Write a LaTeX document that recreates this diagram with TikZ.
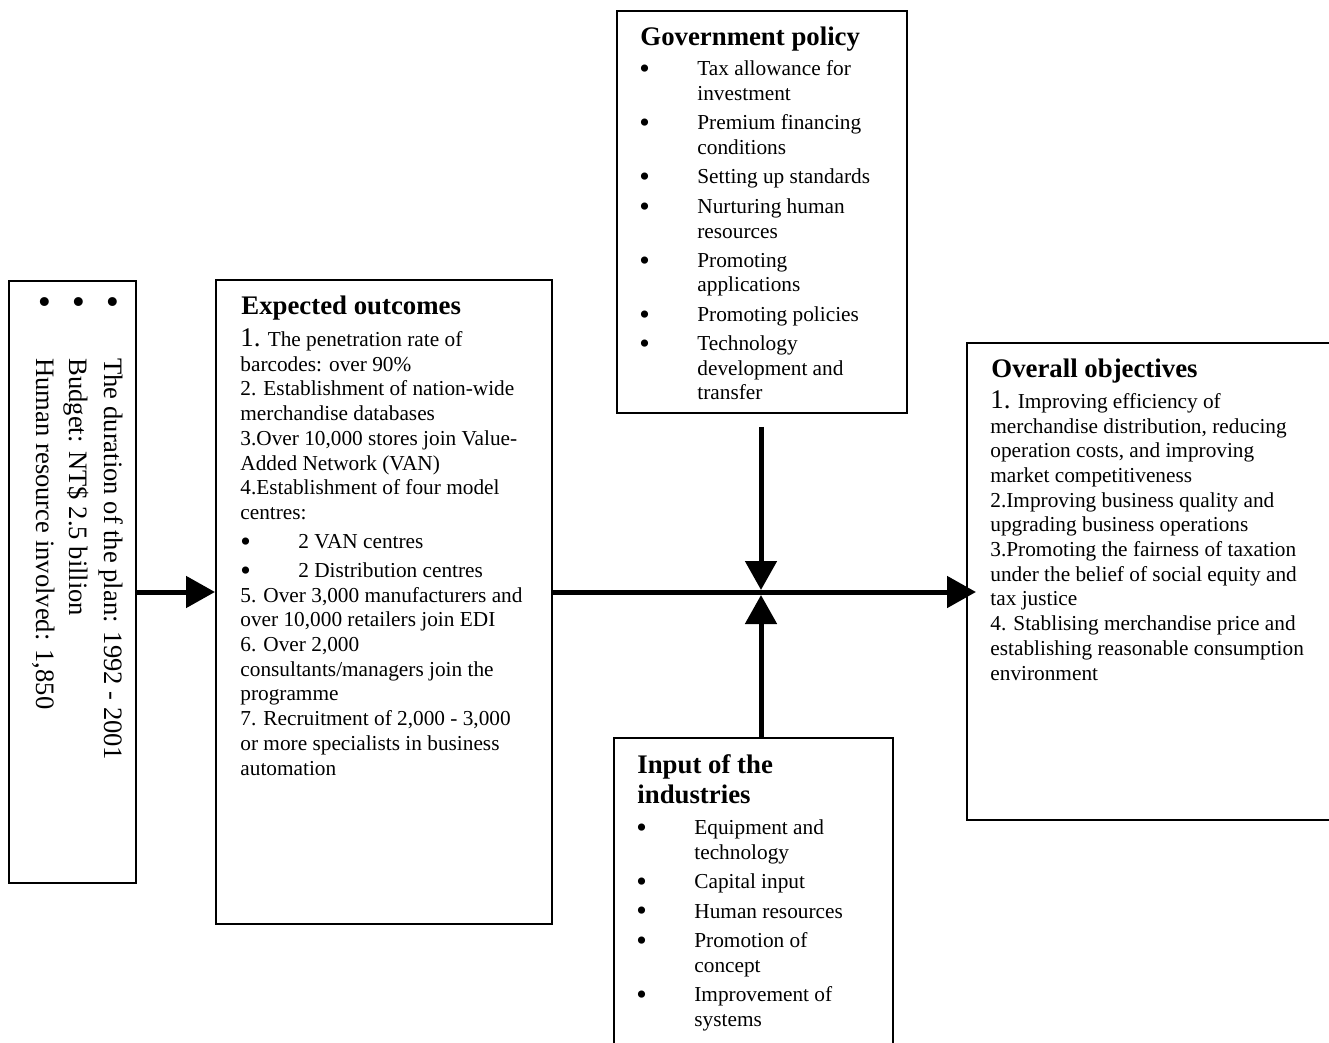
\documentclass[tikz,border=0pt]{standalone}
\usepackage{fontspec}
\setmainfont{Liberation Serif}
\usetikzlibrary{arrows.meta,fit}

% a heavier bullet, set in a larger size and lowered back onto the line
\newcommand{\bigbullet}[2]{\raisebox{#2}{\fontsize{#1}{#1}\selectfont\textbullet}}
% bullet item with a hanging indent, and the continuation line of such an item
\newcommand{\bul}[1]{\makebox[29pt][l]{\bigbullet{15pt}{-1.4pt}}#1}
\newcommand{\cont}[1]{\hspace*{29pt}#1}
\newcommand{\bignum}[1]{{\fontsize{13.5pt}{12pt}\selectfont #1}}

\begin{document}
\begin{tikzpicture}[x=0.5pt,y=-0.5pt,
  panel/.style={draw, line width=1pt, inner sep=0pt},
  % multi-line texts are placed by the baseline of their last line
  heading/.style={anchor=base west, inner sep=0pt, align=left,
    font=\fontsize{13.4pt}{15pt}\selectfont\bfseries},
  body/.style={anchor=base west, inner sep=0pt, align=left,
    font=\fontsize{10.65pt}{12.35pt}\selectfont},
  flow/.style={line width=2.5pt, -{Triangle[length=14.5pt,width=15.5pt]}}]

\useasboundingbox (0,0) rectangle (1329,1043);
\clip (0,0) rectangle (1329,1043);

% panels
\node[panel, fit={(9,281) (136,883)}] (plan) {};
\node[panel, fit={(216,280) (552,924)}] (outcomes) {};
\node[panel, fit={(617,11) (907,413)}] (policy) {};
\node[panel, fit={(614,738) (893,1080)}] (input) {};
\node[panel, fit={(967,343) (1350,820)}] (objectives) {};

% plan facts, set sideways
\node[rotate=-90, anchor=base west, inner sep=0pt, align=left,
      font=\fontsize{13.3pt}{17pt}\selectfont] (plantext) at (36,295)
  {\makebox[31.5pt][l]{\bigbullet{18.6pt}{-1.8pt}}The duration of the plan: 1992 - 2001\\
   \makebox[31.5pt][l]{\bigbullet{18.6pt}{-1.8pt}}Budget: NT\$ 2.5 billion\\
   \makebox[31.5pt][l]{\bigbullet{18.6pt}{-1.8pt}}Human resource involved: 1,850};

% expected outcomes
\node[heading] (outT) at (241,315) {Expected outcomes};
\node[body] (outB) at (240,775)
  {\bignum{1.} The penetration rate of\\
   barcodes: over 90\%\\
   2. Establishment of nation-wide\\
   merchandise databases\\
   3.Over 10,000 stores join Value-\\
   Added Network (VAN)\\
   4.Establishment of four model\\
   centres:\\[2.15pt]
   \bul{2 VAN centres}\\[2.15pt]
   \bul{2 Distribution centres}\\
   5. Over 3,000 manufacturers and\\
   over 10,000 retailers join EDI\\
   6. Over 2,000\\
   consultants/managers join the\\
   programme\\
   7. Recruitment of 2,000 - 3,000\\
   or more specialists in business\\
   automation};

% government policy
\node[heading] (polT) at (640,46) {Government policy};
\node[body] (polB) at (639,400)
  {\bul{Tax allowance for}\\
   \cont{investment}\\[2.3pt]
   \bul{Premium financing}\\
   \cont{conditions}\\[2.3pt]
   \bul{Setting up standards}\\[2.3pt]
   \bul{Nurturing human}\\
   \cont{resources}\\[2.3pt]
   \bul{Promoting}\\
   \cont{applications}\\[2.3pt]
   \bul{Promoting policies}\\[2.3pt]
   \bul{Technology}\\
   \cont{development and}\\
   \cont{transfer}};

% input of the industries
\node[heading] (inT) at (637,803) {Input of the\\ industries};
\node[body] (inB) at (636,1026)
  {\bul{Equipment and}\\
   \cont{technology}\\[2.3pt]
   \bul{Capital input}\\[2.3pt]
   \bul{Human resources}\\[2.3pt]
   \bul{Promotion of}\\
   \cont{concept}\\[2.3pt]
   \bul{Improvement of}\\
   \cont{systems}};

% overall objectives
\node[heading] (objT) at (991,378) {Overall objectives};
\node[body] (objB) at (990,680)
  {\bignum{1.} Improving efficiency of\\
   merchandise distribution, reducing\\
   operation costs, and improving\\
   market competitiveness\\
   2.Improving business quality and\\
   upgrading business operations\\
   3.Promoting the fairness of taxation\\
   under the belief of social equity and\\
   tax justice\\
   4. Stablising merchandise price and\\
   establishing reasonable consumption\\
   environment};

% connectors
\coordinate (hub) at (761,592);
\coordinate (policyfeed) at (761,427);
\draw[flow] (plan.east |- hub) -- (outcomes.west |- hub);
\draw[flow] (outcomes.east |- hub) -- ([xshift=5pt]objectives.west |- hub);
\draw[flow] (policyfeed) -- ([yshift=1pt]hub);
\draw[flow] (hub |- input.north) -- ([yshift=-1.5pt]hub);
\end{tikzpicture}
\end{document}
